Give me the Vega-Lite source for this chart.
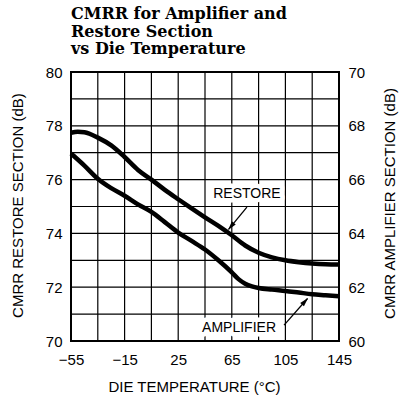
{
  "$schema": "https://vega.github.io/schema/vega-lite/v6.json",
  "width": 268,
  "height": 269,
  "autosize": {"type": "none"},
  "padding": {"left": 71, "top": 72, "right": 62, "bottom": 61},
  "background": "white",
  "config": {
    "view": {"stroke": "black", "strokeWidth": 2},
    "font": "Liberation Sans",
    "axis": {
      "grid": false, "domain": false, "ticks": false,
      "labelFont": "Liberation Sans", "labelFontSize": 15, "labelColor": "black",
      "titleFont": "Liberation Sans", "titleFontSize": 15, "titleFontWeight": "normal", "titleColor": "black",
      "labelOverlap": false
    }
  },
  "title": {
    "text": ["CMRR for Amplifier and", "Restore Section", "vs Die Temperature"],
    "anchor": "start", "frame": "group",
    "font": "DejaVu Serif", "fontSize": 16, "fontWeight": "bold", "lineHeight": 17.5,
    "color": "black", "offset": 8
  },
  "datasets": {
    "xgrid": [
      {"temp": -35}, {"temp": -15}, {"temp": 5}, {"temp": 25}, {"temp": 45},
      {"temp": 65}, {"temp": 85}, {"temp": 105}, {"temp": 125}
    ],
    "ygrid": [
      {"cmrr": 71}, {"cmrr": 72}, {"cmrr": 73}, {"cmrr": 74}, {"cmrr": 75},
      {"cmrr": 76}, {"cmrr": 77}, {"cmrr": 78}, {"cmrr": 79}
    ],
    "restore": [
      {"temp": -55, "cmrr": 77.74}, {"temp": -50, "cmrr": 77.78}, {"temp": -45, "cmrr": 77.76},
      {"temp": -35, "cmrr": 77.56}, {"temp": -25, "cmrr": 77.27}, {"temp": -15, "cmrr": 76.84},
      {"temp": -5, "cmrr": 76.36}, {"temp": 5, "cmrr": 76.0}, {"temp": 15, "cmrr": 75.62},
      {"temp": 25, "cmrr": 75.27}, {"temp": 35, "cmrr": 74.93}, {"temp": 45, "cmrr": 74.6},
      {"temp": 55, "cmrr": 74.28}, {"temp": 65, "cmrr": 73.93}, {"temp": 75, "cmrr": 73.55},
      {"temp": 85, "cmrr": 73.28}, {"temp": 95, "cmrr": 73.11}, {"temp": 105, "cmrr": 73.0},
      {"temp": 115, "cmrr": 72.93}, {"temp": 125, "cmrr": 72.88}, {"temp": 135, "cmrr": 72.85},
      {"temp": 145, "cmrr": 72.84}
    ],
    "amplifier": [
      {"temp": -55, "amp": 66.97}, {"temp": -45, "amp": 66.52}, {"temp": -35, "amp": 66.03},
      {"temp": -25, "amp": 65.68}, {"temp": -15, "amp": 65.4}, {"temp": -5, "amp": 65.08},
      {"temp": 5, "amp": 64.8}, {"temp": 15, "amp": 64.42}, {"temp": 25, "amp": 64.03},
      {"temp": 35, "amp": 63.72}, {"temp": 45, "amp": 63.4}, {"temp": 55, "amp": 63.0},
      {"temp": 65, "amp": 62.55}, {"temp": 70, "amp": 62.3}, {"temp": 75, "amp": 62.13},
      {"temp": 80, "amp": 62.03}, {"temp": 85, "amp": 61.97},
      {"temp": 95, "amp": 61.91}, {"temp": 105, "amp": 61.86}, {"temp": 115, "amp": 61.8},
      {"temp": 125, "amp": 61.74}, {"temp": 135, "amp": 61.7}, {"temp": 145, "amp": 61.66}
    ],
    "labels": [
      {"temp": 76.3, "cmrr": 75.46, "label": "RESTORE"},
      {"temp": 70.4, "cmrr": 70.5, "label": "AMPLIFIER"}
    ],
    "arrows": [
      {"temp": 76.3, "cmrr": 74.98, "temp2": 62.6, "cmrr2": 74.15},
      {"temp": 104, "cmrr": 70.59, "temp2": 121.5, "cmrr2": 71.58}
    ],
    "headRestore": [{"temp": 62.2, "cmrr": 74.13}],
    "headAmp": [{"temp": 121.9, "cmrr": 71.6}]
  },
  "layer": [
    {
      "data": {"name": "xgrid"},
      "mark": {"type": "rule", "color": "black", "strokeWidth": 1.2},
      "encoding": {
        "x": {
          "field": "temp", "type": "quantitative",
          "scale": {"domain": [-55, 145], "nice": false, "zero": false},
          "axis": {
            "values": [-55, -35, -15, 5, 25, 45, 65, 85, 105, 125, 145],
            "labelExpr": "(datum.value + 55) % 40 == 0 ? datum.label : ''",
            "labelFlush": false, "labelPadding": 11,
            "title": "DIE TEMPERATURE (°C)",
            "titleX": 123, "titleY": 45.5, "titleBaseline": "middle", "titleAlign": "center"
          }
        }
      }
    },
    {
      "data": {"name": "ygrid"},
      "mark": {"type": "rule", "color": "black", "strokeWidth": 1.2},
      "encoding": {
        "y": {
          "field": "cmrr", "type": "quantitative",
          "scale": {"domain": [70, 80], "nice": false, "zero": false},
          "axis": {
            "orient": "left",
            "values": [70, 71, 72, 73, 74, 75, 76, 77, 78, 79, 80],
            "labelExpr": "datum.value % 2 == 0 ? datum.label : ''",
            "labelPadding": 9,
            "title": "CMRR RESTORE SECTION (dB)",
            "titleX": -54, "titleY": 133, "titleAngle": 270, "titleBaseline": "middle", "titleAlign": "center"
          }
        }
      }
    },
    {
      "data": {"name": "restore"},
      "mark": {"type": "line", "interpolate": "monotone", "color": "black", "strokeWidth": 4.5},
      "encoding": {
        "x": {"field": "temp", "type": "quantitative"},
        "y": {"field": "cmrr", "type": "quantitative", "scale": {"domain": [70, 80], "nice": false, "zero": false}, "axis": null}
      }
    },
    {
      "data": {"name": "labels"},
      "mark": {"type": "text", "font": "Liberation Sans", "fontSize": 14, "color": "white", "stroke": "white", "strokeWidth": 9, "strokeJoin": "round", "align": "center", "baseline": "middle"},
      "encoding": {
        "x": {"field": "temp", "type": "quantitative"},
        "y": {"field": "cmrr", "type": "quantitative", "scale": {"domain": [70, 80], "nice": false, "zero": false}, "axis": null},
        "text": {"field": "label"}
      }
    },
    {
      "data": {"name": "labels"},
      "mark": {"type": "text", "font": "Liberation Sans", "fontSize": 14, "color": "black", "align": "center", "baseline": "middle"},
      "encoding": {
        "x": {"field": "temp", "type": "quantitative"},
        "y": {"field": "cmrr", "type": "quantitative", "scale": {"domain": [70, 80], "nice": false, "zero": false}, "axis": null},
        "text": {"field": "label"}
      }
    },
    {
      "data": {"name": "arrows"},
      "mark": {"type": "rule", "color": "black", "strokeWidth": 1.3},
      "encoding": {
        "x": {"field": "temp", "type": "quantitative"},
        "y": {"field": "cmrr", "type": "quantitative", "scale": {"domain": [70, 80], "nice": false, "zero": false}, "axis": null},
        "x2": {"field": "temp2"},
        "y2": {"field": "cmrr2"}
      }
    },
    {
      "data": {"name": "headRestore"},
      "mark": {"type": "point", "shape": "M0,0L0.5,1.8L-0.5,1.8Z", "filled": true, "color": "black", "opacity": 1, "size": 100, "angle": 219.6},
      "encoding": {
        "x": {"field": "temp", "type": "quantitative"},
        "y": {"field": "cmrr", "type": "quantitative", "scale": {"domain": [70, 80], "nice": false, "zero": false}, "axis": null}
      }
    },
    {
      "data": {"name": "headAmp"},
      "mark": {"type": "point", "shape": "M0,0L0.5,1.8L-0.5,1.8Z", "filled": true, "color": "black", "opacity": 1, "size": 100, "angle": 41.6},
      "encoding": {
        "x": {"field": "temp", "type": "quantitative"},
        "y": {"field": "cmrr", "type": "quantitative", "scale": {"domain": [70, 80], "nice": false, "zero": false}, "axis": null}
      }
    },
    {
      "data": {"name": "amplifier"},
      "mark": {"type": "line", "interpolate": "monotone", "color": "black", "strokeWidth": 4.5},
      "encoding": {
        "x": {"field": "temp", "type": "quantitative"},
        "y": {
          "field": "amp", "type": "quantitative",
          "scale": {"domain": [60, 70], "nice": false, "zero": false},
          "axis": {
            "orient": "right",
            "values": [60, 62, 64, 66, 68, 70],
            "labelPadding": 9,
            "title": "CMRR AMPLIFIER SECTION (dB)",
            "titleX": 50, "titleY": 131, "titleAngle": 270, "titleBaseline": "middle", "titleAlign": "center"
          }
        }
      }
    }
  ],
  "resolve": {"scale": {"y": "independent"}}
}
